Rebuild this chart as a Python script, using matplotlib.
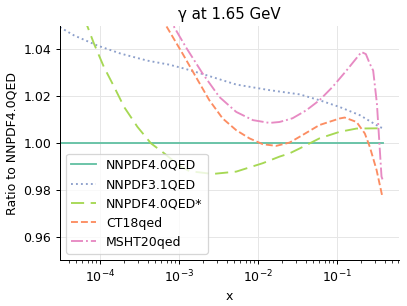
import matplotlib
matplotlib.use("Agg")
import matplotlib.pyplot as plt

# ratio of photon PDFs to NNPDF4.0QED at Q = 1.65 GeV
nnpdf40_x = [3.1e-5, 0.381]
nnpdf40_y = [1.0, 1.0]

nnpdf31_x = [3.1e-5, 4.68e-5, 9.2e-5, 1.83e-4, 3.99e-4, 7.5e-4, 1.17e-3, 1.99e-3,
             5.3e-3, 1.4e-2, 2.51e-2, 3.37e-2, 6.0e-2, 0.108, 0.195, 0.349, 0.381]
nnpdf31_y = [1.0495, 1.0460, 1.0417, 1.0382, 1.0352, 1.0335, 1.0318, 1.0295,
             1.0250, 1.0226, 1.0214, 1.0208, 1.0183, 1.0154, 1.0119, 1.0068, 1.0064]

nnpdf40s_x = [3.1e-5, 5e-5, 6.9e-5, 8.4e-5, 1.12e-4, 1.51e-4, 2.02e-4, 2.98e-4,
              4.41e-4, 6.5e-4, 1.0e-3, 1.35e-3, 2.67e-3, 5.3e-3, 1.15e-2, 1.87e-2,
              2.51e-2, 3.37e-2, 6.0e-2, 0.108, 0.177, 0.349, 0.381]
nnpdf40s_y = [1.090, 1.064, 1.0500, 1.0424, 1.0325, 1.0240, 1.0154, 1.0069,
              0.9999, 0.9956, 0.9905, 0.9880, 0.9868, 0.9878, 0.9914, 0.9942,
              0.9956, 0.9977, 1.0020, 1.0048, 1.0062, 1.0063, 1.0063]

ct18_x = [6.0e-4, 6.9e-4, 1.11e-3, 1.64e-3, 2.42e-3, 3.57e-3, 5.3e-3, 7.8e-3,
          1.15e-2, 1.70e-2, 2.51e-2, 3.37e-2, 6.0e-2, 0.108, 0.125, 0.177,
          0.225, 0.260, 0.317, 0.378]
ct18_y = [1.058, 1.050, 1.0382, 1.0282, 1.0183, 1.0105, 1.0055, 1.0020,
          0.9995, 0.9988, 1.0002, 1.0027, 1.0077, 1.0105, 1.0109, 1.0090,
          1.0041, 0.9984, 0.9885, 0.9766]

msht20_x = [7.5e-4, 8.7e-4, 1.22e-3, 1.99e-3, 3.24e-3, 5.3e-3, 8.6e-3, 1.4e-2,
            1.87e-2, 2.28e-2, 2.74e-2, 4.09e-2, 6.0e-2, 8.8e-2, 0.132, 0.204,
            0.232, 0.260, 0.287, 0.320, 0.366, 0.381]
msht20_y = [1.056, 1.0495, 1.0410, 1.0297, 1.0197, 1.0133, 1.0098, 1.0086,
            1.0090, 1.0098, 1.0106, 1.0140, 1.0183, 1.0240, 1.0310, 1.0389,
            1.0380, 1.0339, 1.0310, 1.0169, 0.9857, 0.9840]

colors = ["#66c2a5", "#8da0cb", "#a6d854", "#fc8d62", "#e78ac3"]

# rendered at 90 dpi so the default font sizes match the reference
fig = plt.figure(figsize=(407 / 90, 306 / 90), dpi=90)
ax = fig.add_axes([0.147, 0.150, 0.833, 0.765])

ax.plot(nnpdf40_x, nnpdf40_y, color=colors[0], lw=1.5, ls="-", label="NNPDF4.0QED")
ax.plot(nnpdf31_x, nnpdf31_y, color=colors[1], lw=1.5, ls=":", label="NNPDF3.1QED")
ax.plot(nnpdf40s_x, nnpdf40s_y, color=colors[2], lw=1.5, dashes=(7, 3.5), label="NNPDF4.0QED*")
ax.plot(ct18_x, ct18_y, color=colors[3], lw=1.5, ls="--", label="CT18qed")
ax.plot(msht20_x, msht20_y, color=colors[4], lw=1.5, ls="-.", label="MSHT20qed")

ax.set_xscale("log")
ax.set_xlim(3.1e-5, 0.607)
ax.set_ylim(0.95, 1.05)
ax.set_yticks([0.96, 0.98, 1.00, 1.02, 1.04])
ax.grid(True, which="major", color="#e6e6e6", lw=0.8)
ax.spines["top"].set_visible(False)
ax.spines["right"].set_visible(False)

ax.set_title("γ at 1.65 GeV")
ax.set_xlabel("x")
ax.set_ylabel("Ratio to NNPDF4.0QED")
ax.legend(loc="lower left", framealpha=0.8)

fig.savefig("out.png", dpi=90)
